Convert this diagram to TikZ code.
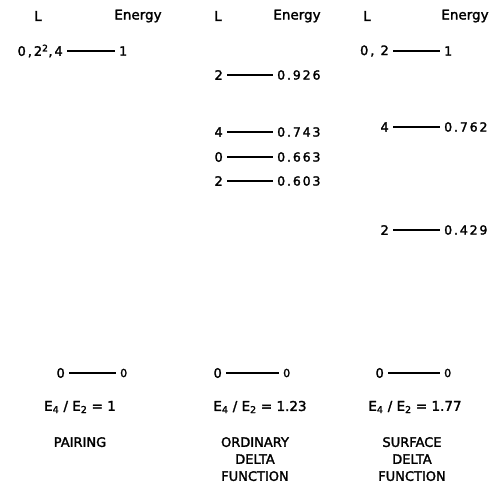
\documentclass[tikz,border=0pt]{standalone}
\usepackage{fontspec}
\setmainfont[FakeBold=2]{DejaVu Sans}
\newfontfamily\numfont[LetterSpace=15, FakeBold=2]{DejaVu Sans}
\usepackage{tikz}

\begin{document}
\begin{tikzpicture}[
    x=1pt, y=-1pt,
    every node/.style={font=\fontsize{13.5}{16}\selectfont, inner sep=0pt},
    head/.style={anchor=center},
    lab/.style={anchor=east, font=\fontsize{13}{15}\numfont, inner xsep=4pt},
    val/.style={anchor=west, font=\fontsize{12.5}{14}\numfont, inner xsep=4pt},
    gval/.style={anchor=west, font=\fontsize{11}{13}\numfont, inner xsep=4pt},
    ratio/.style={anchor=center, font=\fontsize{13.5}{16}\selectfont},
    caption/.style={anchor=north, align=center, font=\fontsize{13}{17}\selectfont},
    level/.style={line width=1.8pt}
]
\useasboundingbox (0,0) rectangle (492,493);

% Headers
\node[head] (hL1) at (38,16) {L};
\node[head] (hE1) at (138,16) {Energy};
\node[head] (hL2) at (218,16) {L};
\node[head] (hE2) at (297,16) {Energy};
\node[head] (hL3) at (367,16) {L};
\node[head] (hE3) at (465,16) {Energy};

% Pairing
\node[lab] (pa) at (67,51) {0,2\textsuperscript{2},4};
\node[val] (pav) at (115,51) {1};
\node[lab] (pg) at (69,373) {0};
\node[gval] (pgv) at (116,373) {0};
\node[ratio] (pr) at (80,407) {E\textsubscript{4} / E\textsubscript{2} = 1};
\node[caption] (pc) at (80,437) {PAIRING};

% Ordinary delta function
\node[lab] (oa) at (227,75) {2};
\node[val] (oav) at (273,75) {0.926};
\node[lab] (ob) at (227,132) {4};
\node[val] (obv) at (273,132) {0.743};
\node[lab] (oc) at (227,157) {0};
\node[val] (ocv) at (273,157) {0.663};
\node[lab] (od) at (227,181) {2};
\node[val] (odv) at (273,181) {0.603};
\node[lab] (og) at (226,373) {0};
\node[gval] (ogv) at (279,373) {0};
\node[ratio] (or) at (260,407) {E\textsubscript{4} / E\textsubscript{2} = 1.23};
\node[caption] (oc2) at (255,437) {ORDINARY\\DELTA\\FUNCTION};

% Surface delta function
\node[lab] (sa) at (393,51) {0, 2};
\node[val] (sav) at (440,51) {1};
\node[lab] (sb) at (393,127) {4};
\node[val] (sbv) at (440,127) {0.762};
\node[lab] (sc) at (393,230) {2};
\node[val] (scv) at (440,230) {0.429};
\node[lab] (sg) at (388,373) {0};
\node[gval] (sgv) at (440,373) {0};
\node[ratio] (sr) at (415,407) {E\textsubscript{4} / E\textsubscript{2} = 1.77};
\node[caption] (sc2) at (412,437) {SURFACE\\DELTA\\FUNCTION};

% Levels
\foreach \a/\b in {pa/pav, pg/pgv, oa/oav, ob/obv, oc/ocv, od/odv, og/ogv,
                   sa/sav, sb/sbv, sc/scv, sg/sgv}
    \draw[level] (\a.east) -- (\a.east -| \b.west);

\end{tikzpicture}
\end{document}
